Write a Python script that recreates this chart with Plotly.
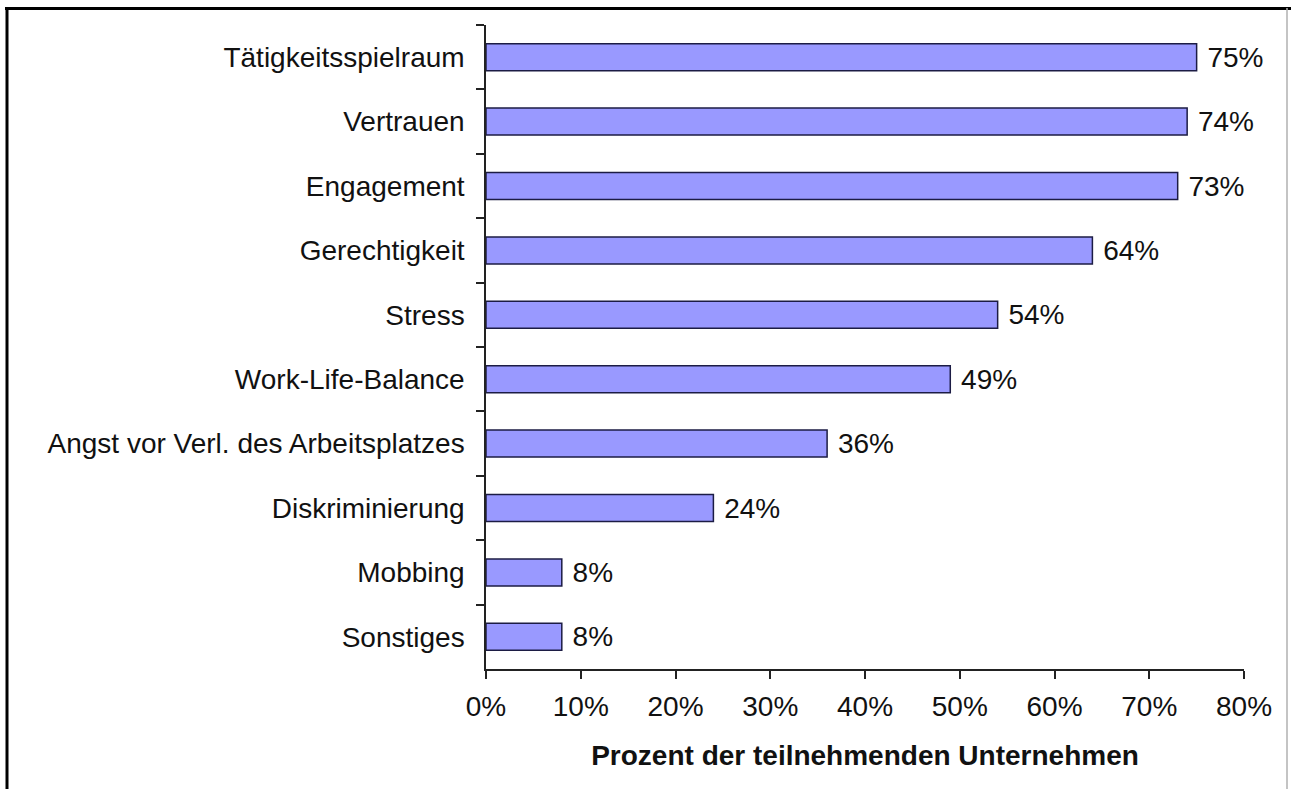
import plotly.graph_objects as go

categories = [
    "Tätigkeitsspielraum",
    "Vertrauen",
    "Engagement",
    "Gerechtigkeit",
    "Stress",
    "Work-Life-Balance",
    "Angst vor Verl. des Arbeitsplatzes",
    "Diskriminierung",
    "Mobbing",
    "Sonstiges",
]
values = [75, 74, 73, 64, 54, 49, 36, 24, 8, 8]
x_ticks = [0, 10, 20, 30, 40, 50, 60, 70, 80]
x_tick_labels = ["0%", "10%", "20%", "30%", "40%", "50%", "60%", "70%", "80%"]
x_title = "Prozent der teilnehmenden Unternehmen"

W, H = 1291, 789
ML, MR, MT, MB = 486, 47, 25, 120
FONT = "Liberation Sans, Arial, sans-serif"

fig = go.Figure()
fig.add_trace(go.Bar(
    y=categories,
    x=values,
    orientation="h",
    marker=dict(color="#9999FF", line=dict(color="#1c1c44", width=1.5)),
    text=["\u00a0" + f"{v}%" for v in values],
    textposition="outside",
    textfont=dict(family=FONT, size=28, color="#111111"),
    constraintext="none",
    cliponaxis=False,
    hoverinfo="skip",
))

pw = W - ML - MR
ph = H - MT - MB


def px_to_paper_x(px):
    return (px - ML) / pw


def px_to_paper_y(py):
    return 1 - (py - MT) / ph


shapes = [
    # top border
    dict(type="line", xref="paper", yref="paper",
         x0=px_to_paper_x(5), x1=px_to_paper_x(W + 2),
         y0=px_to_paper_y(8.5), y1=px_to_paper_y(8.5),
         line=dict(color="black", width=3)),
    # left border
    dict(type="line", xref="paper", yref="paper",
         x0=px_to_paper_x(7), x1=px_to_paper_x(7),
         y0=px_to_paper_y(7), y1=px_to_paper_y(H + 2),
         line=dict(color="black", width=3)),
    # right border
    dict(type="line", xref="paper", yref="paper",
         x0=px_to_paper_x(1287), x1=px_to_paper_x(1287),
         y0=px_to_paper_y(8), y1=px_to_paper_y(H + 2),
         line=dict(color="#b0b0b0", width=1.5)),
]

fig.update_layout(
    width=W,
    height=H,
    margin=dict(l=ML, r=MR, t=MT, b=MB, pad=0),
    paper_bgcolor="white",
    plot_bgcolor="white",
    showlegend=False,
    bargap=0.58,
    font=dict(family=FONT, size=28, color="#111111"),
    shapes=shapes,
    xaxis=dict(
        range=[0, 80],
        tickmode="array",
        tickvals=x_ticks,
        ticktext=x_tick_labels,
        ticks="outside",
        ticklen=8,
        tickwidth=1.5,
        tickcolor="#222222",
        showline=True,
        linecolor="#222222",
        linewidth=1.5,
        showgrid=False,
        zeroline=False,
        tickfont=dict(family=FONT, size=28, color="#111111"),
        ticklabelstandoff=4,
        title=dict(text="<b>" + x_title + "</b>",
                   font=dict(family=FONT, size=28, color="#111111"),
                   standoff=24),
        fixedrange=True,
    ),
    yaxis=dict(
        categoryorder="array",
        categoryarray=categories,
        autorange="reversed",
        ticks="outside",
        tickson="boundaries",
        ticklen=8,
        tickwidth=1.5,
        tickcolor="#222222",
        showline=True,
        linecolor="#222222",
        linewidth=1.5,
        showgrid=False,
        zeroline=False,
        tickfont=dict(family=FONT, size=28, color="#111111"),
        ticklabelstandoff=14,
        fixedrange=True,
    ),
)

fig.write_html(
    "out.html",
    config={"displayModeBar": False},
    post_script="document.body.style.margin='0';document.body.style.overflow='hidden';",
)
